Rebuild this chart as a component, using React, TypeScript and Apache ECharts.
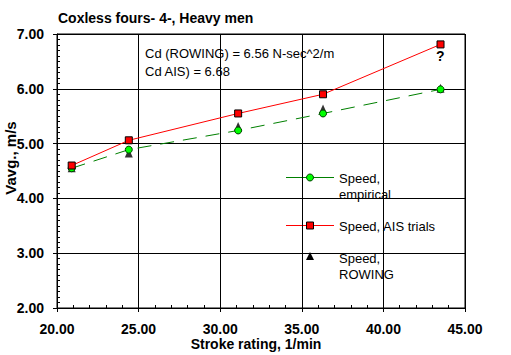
import React, { useEffect, useRef } from "react";
import * as echarts from "echarts";

const strokeRates = [20.9, 24.4, 31.1, 36.3, 43.5];
const speedAIS = [4.6, 5.06, 5.55, 5.9, 6.81];
const speedEmpirical = [4.55, 4.89, 5.24, 5.55, 5.99];
const speedRowing = [4.56, 4.83, 5.31, 5.63, 6.01];

const title = "Coxless fours- 4-, Heavy men";
const note1 = "Cd (ROWING) = 6.56 N-sec^2/m";
const note2 = "Cd AIS) = 6.68";
const xName = "Stroke rating, 1/min";
const yName = "Vavg., m/s";
const legendEmpirical = "Speed,\nempirical";
const legendAIS = "Speed, AIS trials";
const legendRowing = "Speed,\nROWING";

const FONT = "Arial, 'Liberation Sans', sans-serif";

export default function App() {
  const ref = useRef<HTMLDivElement>(null);
  useEffect(() => {
    if (!ref.current) return;
    const chart = echarts.init(ref.current, null, { renderer: "svg" });
    const pairs = (ys: number[]) => strokeRates.map((x, i) => [x, ys[i]]);
    const legendText = (y: number, text: string) => ({
      type: "text",
      left: 339,
      top: y,
      silent: true,
      style: { text, fill: "#000", font: `13px ${FONT}`, lineHeight: 16 },
    });
    const black = { color: "#000", width: 1 };
    const labelStyle = {
      color: "#000",
      fontWeight: "bold",
      fontSize: 14,
      fontFamily: FONT,
      formatter: (v: number) => v.toFixed(2),
    };
    chart.setOption({
      animation: false,
      backgroundColor: "#fff",
      textStyle: { fontFamily: FONT },
      grid: {
        left: 57,
        right: 46,
        top: 34,
        bottom: 47,
        show: true,
        borderColor: "#000",
        borderWidth: 1,
        containLabel: false,
        outerBoundsMode: "none",
      },
      xAxis: [
        {
          type: "value",
          position: "bottom",
          min: 20,
          max: 45,
          interval: 5,
          name: xName,
          nameLocation: "middle",
          nameGap: 29,
          nameMoveOverlap: false,
          nameTextStyle: { color: "#000", fontWeight: "bold", fontSize: 14, fontFamily: FONT, padding: [0, 10, 0, 0] },
          axisLine: { show: true, lineStyle: black },
          axisTick: { show: true, inside: false, length: 4, lineStyle: black },
          minorTick: { show: false },
          axisLabel: { ...labelStyle, margin: 14 },
          splitLine: { show: true, lineStyle: black },
        },
        {
          type: "value",
          position: "bottom",
          offset: 0,
          min: 20,
          max: 45,
          interval: 5,
          axisLine: { show: false },
          axisTick: { show: false, inside: true },
          minorTick: { show: true, splitNumber: 5, length: 3, lineStyle: black },
          axisLabel: { show: false },
          splitLine: { show: false },
        },
      ],
      yAxis: [
        {
          type: "value",
          position: "left",
          min: 2,
          max: 7,
          interval: 1,
          name: yName,
          nameLocation: "middle",
          nameGap: 39,
          nameMoveOverlap: false,
          nameRotate: 90,
          nameTextStyle: { color: "#000", fontWeight: "bold", fontSize: 15, fontFamily: FONT, padding: [0, 0, 0, 26] },
          axisLine: { show: true, lineStyle: black },
          axisTick: { show: true, inside: false, length: 4, lineStyle: black },
          minorTick: { show: false },
          axisLabel: { ...labelStyle, margin: 13 },
          splitLine: { show: true, lineStyle: black },
        },
        {
          type: "value",
          position: "left",
          offset: 0,
          min: 2,
          max: 7,
          interval: 1,
          axisLine: { show: false },
          axisTick: { show: false, inside: true },
          minorTick: { show: true, splitNumber: 10, length: 3, lineStyle: black },
          axisLabel: { show: false },
          splitLine: { show: false },
        },
      ],
      series: [
        {
          name: "Speed, empirical",
          type: "line",
          data: pairs(speedEmpirical),
          symbol: "circle",
          symbolSize: 7,
          lineStyle: { color: "#008000", width: 1, type: [14, 9] },
          itemStyle: { color: "#00ff00", borderColor: "#004000", borderWidth: 1 },
          z: 3,
        },
        {
          name: "Speed, ROWING",
          type: "scatter",
          data: pairs(speedRowing),
          symbol: "triangle",
          symbolSize: [8, 9],
          itemStyle: { color: "#000" },
          z: 2,
        },
        {
          name: "Speed, AIS trials",
          type: "line",
          data: pairs(speedAIS),
          symbol: "rect",
          symbolSize: 7,
          lineStyle: { color: "#ff0000", width: 1 },
          itemStyle: { color: "#ff0000", borderColor: "#000", borderWidth: 1 },
          z: 4,
        },
      ],
      graphic: [
        {
          type: "text",
          left: 58,
          top: 11,
          silent: true,
          style: { text: title, fill: "#000", font: `bold 14px ${FONT}` },
        },
        {
          type: "text",
          left: 145,
          top: 44,
          silent: true,
          style: { text: note1 + "\n" + note2, fill: "#000", font: `13px ${FONT}`, lineHeight: 18 },
        },
        {
          type: "text",
          left: 436,
          top: 49,
          silent: true,
          style: { text: "?", fill: "#000", font: `bold 14px ${FONT}` },
        },
        { type: "line", silent: true, shape: { x1: 286, y1: 177.5, x2: 334, y2: 177.5 }, style: { stroke: "#008000", lineWidth: 1 } },
        { type: "circle", silent: true, shape: { cx: 310, cy: 177.5, r: 3.5 }, style: { fill: "#00ff00", stroke: "#004000", lineWidth: 1 } },
        legendText(170, legendEmpirical),
        { type: "line", silent: true, shape: { x1: 286, y1: 225.5, x2: 334, y2: 225.5 }, style: { stroke: "#ff0000", lineWidth: 1 } },
        { type: "rect", silent: true, shape: { x: 306.5, y: 222, width: 7, height: 7 }, style: { fill: "#ff0000", stroke: "#000", lineWidth: 1 } },
        legendText(218, legendAIS),
        { type: "polygon", silent: true, shape: { points: [[310, 252], [306, 260], [314, 260]] }, style: { fill: "#000" } },
        legendText(250, legendRowing),
      ],
    });
    return () => chart.dispose();
  }, []);
  return (
    <div
      ref={ref}
      style={{ position: "fixed", left: 0, top: 0, width: 511, height: 355, background: "#fff" }}
    />
  );
}
